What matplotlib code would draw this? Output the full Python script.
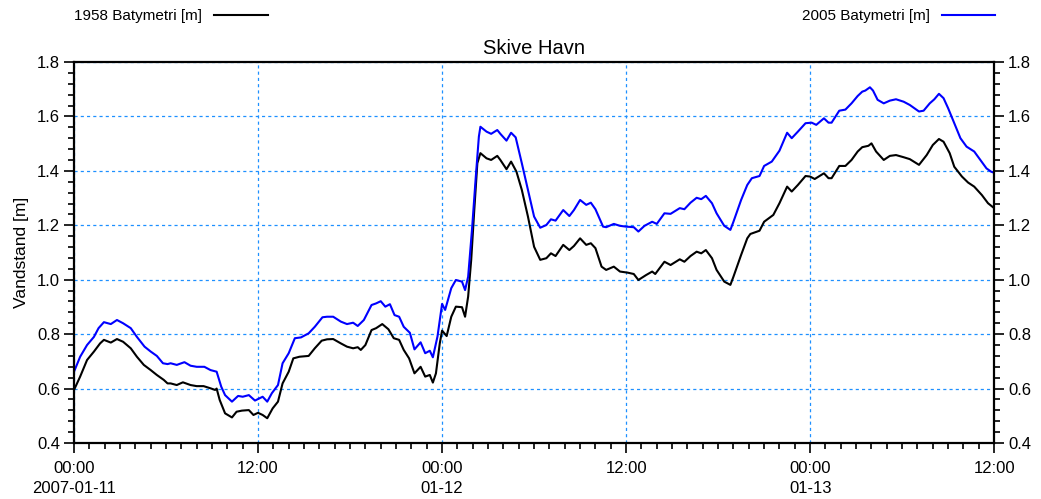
import numpy as np
import pandas as pd
import matplotlib
matplotlib.use('Agg')
import matplotlib.pyplot as plt
import matplotlib.dates as mdates
from matplotlib.ticker import MultipleLocator, FormatStrFormatter, FuncFormatter

plt.rcParams['font.family'] = ['Liberation Sans', 'DejaVu Sans']

# timer efter 2007-01-11 00:00 og vandstand [m]
start = pd.Timestamp('2007-01-11 00:00')

hours_1958 = [0.0, 0.4, 0.85, 1.3, 1.7, 1.95, 2.4, 2.8, 3.2, 3.7, 4.1, 4.55, 5.0, 5.4, 5.85,
              6.1, 6.3, 6.7, 7.1, 7.6, 8.0, 8.45, 8.9, 9.2, 9.3, 9.5, 9.85, 10.3, 10.6, 10.95,
              11.4, 11.7, 12.0, 12.3, 12.6, 12.95, 13.3, 13.6, 14.0, 14.3, 14.7, 15.3, 15.7,
              16.15, 16.5, 16.9, 17.4, 17.8, 18.2, 18.5, 18.7, 19.0, 19.4, 19.7, 20.1, 20.5,
              20.85, 21.2, 21.5, 21.85, 22.2, 22.6, 22.9, 23.2, 23.4, 23.6, 23.85, 24.0, 24.3,
              24.6, 24.9, 25.3, 25.5, 25.7, 25.9, 26.1, 26.3, 26.5, 26.9, 27.2, 27.6, 27.8,
              28.2, 28.5, 28.85, 29.2, 29.6, 30.0, 30.4, 30.8, 31.1, 31.4, 31.9, 32.3, 32.6,
              33.0, 33.4, 33.7, 34.0, 34.4, 34.7, 35.2, 35.6, 36.1, 36.5, 36.8, 37.3, 37.7,
              37.9, 38.5, 38.9, 39.5, 39.8, 40.2, 40.6, 40.9, 41.2, 41.6, 41.9, 42.4, 42.8,
              43.0, 43.5, 43.9, 44.1, 44.7, 45.0, 45.6, 46.0, 46.5, 46.8, 47.2, 47.7, 48.0,
              48.3, 48.9, 49.2, 49.4, 49.9, 50.3, 50.7, 51.1, 51.4, 51.8, 52.0, 52.3, 52.8,
              53.2, 53.6, 54.1, 54.5, 55.1, 55.6, 56.0, 56.4, 56.7, 57.1, 57.4, 57.9, 58.3,
              58.7, 59.2, 59.6, 60.0]
level_1958 = [0.595, 0.644, 0.705, 0.736, 0.766, 0.779, 0.769, 0.782, 0.772, 0.748, 0.717,
              0.687, 0.668, 0.650, 0.632, 0.619, 0.619, 0.613, 0.623, 0.613, 0.609, 0.609,
              0.601, 0.595, 0.600, 0.558, 0.509, 0.494, 0.515, 0.519, 0.521, 0.503, 0.511,
              0.503, 0.491, 0.527, 0.552, 0.619, 0.662, 0.711, 0.717, 0.720, 0.748, 0.776,
              0.781, 0.782, 0.766, 0.754, 0.748, 0.752, 0.742, 0.760, 0.815, 0.822, 0.837,
              0.818, 0.785, 0.779, 0.742, 0.711, 0.656, 0.680, 0.644, 0.650, 0.622, 0.656,
              0.766, 0.813, 0.793, 0.864, 0.901, 0.899, 0.864, 0.938, 1.073, 1.256, 1.428,
              1.465, 1.446, 1.440, 1.455, 1.440, 1.406, 1.434, 1.397, 1.330, 1.232, 1.121,
              1.073, 1.079, 1.097, 1.087, 1.128, 1.109, 1.124, 1.152, 1.128, 1.134, 1.116,
              1.048, 1.036, 1.048, 1.030, 1.026, 1.021, 0.999, 1.017, 1.030, 1.021, 1.066,
              1.054, 1.075, 1.066, 1.087, 1.103, 1.097, 1.109, 1.079, 1.036, 0.993, 0.981,
              1.011, 1.091, 1.152, 1.168, 1.180, 1.213, 1.238, 1.281, 1.342, 1.324, 1.348,
              1.381, 1.379, 1.370, 1.391, 1.373, 1.373, 1.418, 1.418, 1.440, 1.471, 1.487,
              1.492, 1.501, 1.471, 1.440, 1.455, 1.458, 1.450, 1.443, 1.422, 1.458, 1.495,
              1.517, 1.507, 1.465, 1.415, 1.379, 1.357, 1.342, 1.311, 1.281, 1.263]

hours_2005 = [0.0, 0.4, 0.85, 1.3, 1.6, 1.95, 2.4, 2.8, 3.2, 3.7, 4.1, 4.6, 5.0, 5.4, 5.8,
              6.1, 6.3, 6.7, 7.2, 7.6, 8.0, 8.5, 8.9, 9.3, 9.6, 9.85, 10.3, 10.7, 11.0, 11.4,
              11.8, 12.3, 12.6, 12.9, 13.3, 13.6, 14.0, 14.4, 14.8, 15.3, 15.7, 16.2, 16.5,
              16.9, 17.4, 17.8, 18.2, 18.5, 18.9, 19.4, 19.7, 20.0, 20.3, 20.6, 20.9, 21.2,
              21.5, 21.9, 22.2, 22.6, 22.9, 23.2, 23.4, 23.7, 24.0, 24.2, 24.6, 24.9, 25.3,
              25.5, 25.7, 25.95, 26.2, 26.4, 26.5, 26.9, 27.2, 27.6, 27.8, 28.2, 28.5, 28.8,
              29.2, 29.6, 30.0, 30.4, 30.8, 31.1, 31.4, 31.9, 32.3, 32.6, 33.0, 33.4, 33.7,
              34.0, 34.5, 34.7, 35.2, 35.6, 36.0, 36.5, 36.8, 37.2, 37.7, 38.0, 38.5, 38.9,
              39.5, 39.8, 40.2, 40.6, 40.9, 41.2, 41.6, 41.9, 42.4, 42.8, 43.0, 43.5, 43.9,
              44.2, 44.7, 45.0, 45.5, 46.0, 46.5, 46.8, 47.2, 47.7, 48.1, 48.4, 48.9, 49.2,
              49.4, 49.9, 50.3, 50.7, 51.1, 51.4, 51.6, 51.9, 52.1, 52.4, 52.8, 53.2, 53.6,
              54.1, 54.5, 55.1, 55.4, 55.8, 56.1, 56.4, 56.7, 57.0, 57.4, 57.8, 58.2, 58.7,
              59.1, 59.5, 59.8, 60.0]
level_2005 = [0.662, 0.717, 0.760, 0.790, 0.822, 0.844, 0.837, 0.852, 0.840, 0.822, 0.790,
              0.754, 0.736, 0.720, 0.693, 0.690, 0.693, 0.687, 0.697, 0.684, 0.680, 0.680,
              0.668, 0.662, 0.607, 0.576, 0.552, 0.573, 0.570, 0.576, 0.556, 0.570, 0.552,
              0.583, 0.613, 0.693, 0.730, 0.785, 0.788, 0.803, 0.827, 0.862, 0.864, 0.864,
              0.846, 0.837, 0.842, 0.830, 0.852, 0.907, 0.913, 0.921, 0.901, 0.910, 0.870,
              0.864, 0.827, 0.805, 0.744, 0.770, 0.730, 0.739, 0.715, 0.791, 0.911, 0.889,
              0.969, 0.999, 0.993, 0.962, 1.011, 1.183, 1.379, 1.526, 1.562, 1.544, 1.536,
              1.550, 1.536, 1.511, 1.540, 1.523, 1.428, 1.330, 1.232, 1.191, 1.201, 1.222,
              1.217, 1.256, 1.234, 1.256, 1.293, 1.275, 1.283, 1.259, 1.195, 1.193, 1.205,
              1.198, 1.195, 1.193, 1.177, 1.198, 1.213, 1.205, 1.244, 1.242, 1.263, 1.259,
              1.283, 1.301, 1.296, 1.308, 1.281, 1.244, 1.198, 1.183, 1.213, 1.293, 1.348,
              1.373, 1.381, 1.418, 1.434, 1.474, 1.540, 1.520, 1.544, 1.575, 1.577, 1.569,
              1.593, 1.577, 1.577, 1.621, 1.625, 1.648, 1.675, 1.691, 1.695, 1.707, 1.695,
              1.661, 1.648, 1.658, 1.663, 1.654, 1.642, 1.618, 1.621, 1.648, 1.663, 1.683,
              1.667, 1.630, 1.575, 1.520, 1.489, 1.471, 1.440, 1.409, 1.397, 1.393]

label_1958 = '1958 Batymetri [m]'
label_2005 = '2005 Batymetri [m]'

t_1958 = start + pd.to_timedelta(hours_1958, unit='h')
t_2005 = start + pd.to_timedelta(hours_2005, unit='h')

fig = plt.figure(figsize=(10.41, 4.99), dpi=100)
ax = fig.add_axes([0.0711, 0.1122, 0.8839, 0.7636])

l1, = ax.plot(t_1958, level_1958, color='black', lw=1.5)
l2, = ax.plot(t_2005, level_2005, color='#0000ff', lw=1.5)

ax.set_xlim(start, start + pd.Timedelta(hours=60))
ax.set_ylim(0.4, 1.8)

# akser
ax.xaxis.set_major_locator(mdates.HourLocator(byhour=[0, 12]))
ax.xaxis.set_minor_locator(mdates.HourLocator())

def fmt_time(x, pos):
    d = mdates.num2date(x).replace(tzinfo=None)
    if d.hour == 0:
        if d == start.to_pydatetime():
            return d.strftime('%H:%M\n%Y-%m-%d')
        return d.strftime('%H:%M\n%m-%d')
    return d.strftime('%H:%M')

ax.xaxis.set_major_formatter(FuncFormatter(fmt_time))
ax.yaxis.set_major_locator(MultipleLocator(0.2))
ax.yaxis.set_minor_locator(MultipleLocator(0.04))
ax.yaxis.set_major_formatter(FormatStrFormatter('%.1f'))

ax.tick_params(which='both', direction='out', width=1.2, labelsize=12,
               left=True, right=True, labelright=True, top=False)
ax.tick_params(which='major', length=7, pad=3)
ax.tick_params(axis='x', which='major', pad=6)
ax.tick_params(which='minor', length=4)
for s in ax.spines.values():
    s.set_linewidth(1.6)

ax.grid(True, which='major', color='#1e90ff', linestyle=(0, (2.5, 2.5)), lw=0.9)

ax.set_ylabel('Vandstand [m]', fontsize=12.5, labelpad=6)
ax.set_title('Skive Havn', fontsize=14.5, pad=6)

# forklaring over plottet
fig.legend([l1], [label_1958], loc='upper left', bbox_to_anchor=(0.071, 0.982),
           markerfirst=False, frameon=False, fontsize=11, handlelength=3.5,
           handletextpad=0.8, borderpad=0, borderaxespad=0)
fig.legend([l2], [label_2005], loc='upper right', bbox_to_anchor=(0.956, 0.982),
           markerfirst=False, frameon=False, fontsize=11, handlelength=3.5,
           handletextpad=0.8, borderpad=0, borderaxespad=0)

fig.canvas.draw()
for t in ax.xaxis.get_major_ticks():
    t.label1.set_linespacing(1.45)

fig.savefig('out.png', dpi=100)
